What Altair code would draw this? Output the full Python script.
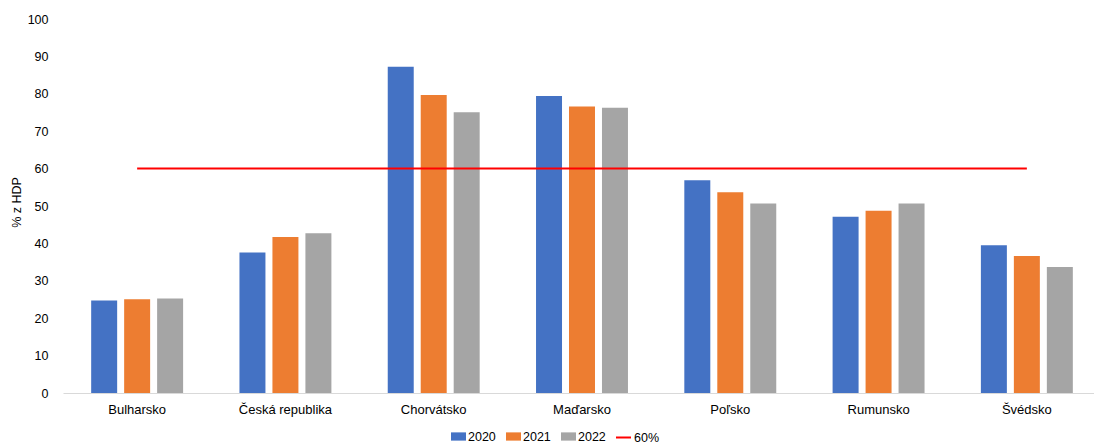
import altair as alt
import pandas as pd

# Public debt, % of GDP
countries = ["Bulharsko", "Česká republika", "Chorvátsko", "Maďarsko",
             "Poľsko", "Rumunsko", "Švédsko"]
years = ["2020", "2021", "2022"]
debt_2020 = [24.7, 37.6, 87.2, 79.4, 56.9, 47.1, 39.5]
debt_2021 = [25.1, 41.7, 79.7, 76.6, 53.7, 48.7, 36.6]
debt_2022 = [25.3, 42.7, 75.1, 76.3, 50.7, 50.7, 33.7]
threshold = 60
threshold_label = "60%"

bar_colors = ["#4472C4", "#ED7D31", "#A5A5A5"]
line_color = "#FF0000"

rows = []
for series, vals in zip(years, [debt_2020, debt_2021, debt_2022]):
    for c, v in zip(countries, vals):
        rows.append({"krajina": c, "rok": series, "hodnota": v})
bars_df = pd.DataFrame(rows)

line_df = pd.DataFrame([{"krajina": countries[0], "koniec": countries[-1],
                         "hodnota": threshold, "hranica": threshold_label}])

font = "Liberation Sans"

x_enc = alt.X(
    "krajina:N", title=None,
    scale=alt.Scale(domain=countries, range=[0, 1038],
                    paddingInner=0.38, paddingOuter=0.19),
    axis=alt.Axis(labelAngle=0, labelFontSize=13, labelFont=font,
                  labelColor="#000000", ticks=False, labelPadding=10,
                  domainColor="#d9d9d9", domainWidth=1),
)
y_enc = alt.Y(
    "hodnota:Q", title="% z HDP",
    scale=alt.Scale(domain=[0, 100], nice=False),
    axis=alt.Axis(values=list(range(0, 101, 10)), grid=False, domain=False,
                  ticks=False, labelPadding=15, labelFontSize=12.5,
                  labelOverlap=False,
                  labelFont=font, labelColor="#000000",
                  titleFont=font, titleFontSize=12.5, titleFontWeight="normal",
                  titleColor="#000000", titleX=-47, titleY=183,
                  titleAngle=270, titleAlign="center", titleBaseline="middle"),
)

bar_legend = alt.Legend(
    title=None, orient="none", direction="horizontal",
    legendX=388, legendY=410,
    labelFont=font, labelFontSize=12.5, labelColor="#000000",
    symbolSize=225, symbolStrokeWidth=0, columnPadding=10, labelOffset=2,
    symbolType="M-1,-0.55H1V0.55H-1Z",
)
line_legend = alt.Legend(
    title=None, orient="none", direction="horizontal",
    legendX=552, legendY=410,
    labelFont=font, labelFontSize=12.5, labelColor="#000000",
    symbolSize=225, symbolStrokeWidth=2, labelOffset=2,
    symbolType="stroke",
)

bars = alt.Chart(bars_df).mark_bar().encode(
    x=x_enc,
    xOffset=alt.XOffset("rok:N", sort=years,
                        scale=alt.Scale(paddingInner=0.212, paddingOuter=0)),
    y=y_enc,
    fill=alt.Fill("rok:N", scale=alt.Scale(domain=years, range=bar_colors),
                  legend=bar_legend),
)

rule = alt.Chart(line_df).mark_rule(strokeWidth=2).encode(
    x=x_enc,
    x2="koniec:N",
    y=y_enc,
    stroke=alt.Stroke("hranica:N",
                      scale=alt.Scale(domain=[threshold_label], range=[line_color]),
                      legend=line_legend),
)

chart = alt.layer(bars, rule).properties(
    width=1031, height=374,
    autosize=alt.AutoSizeParams(type="none"),
    padding={"left": 63, "top": 19, "right": 0, "bottom": 50},
    background="#ffffff",
).configure_view(stroke=None)

chart.save("out.html", embed_options={"renderer": "svg", "actions": False})
